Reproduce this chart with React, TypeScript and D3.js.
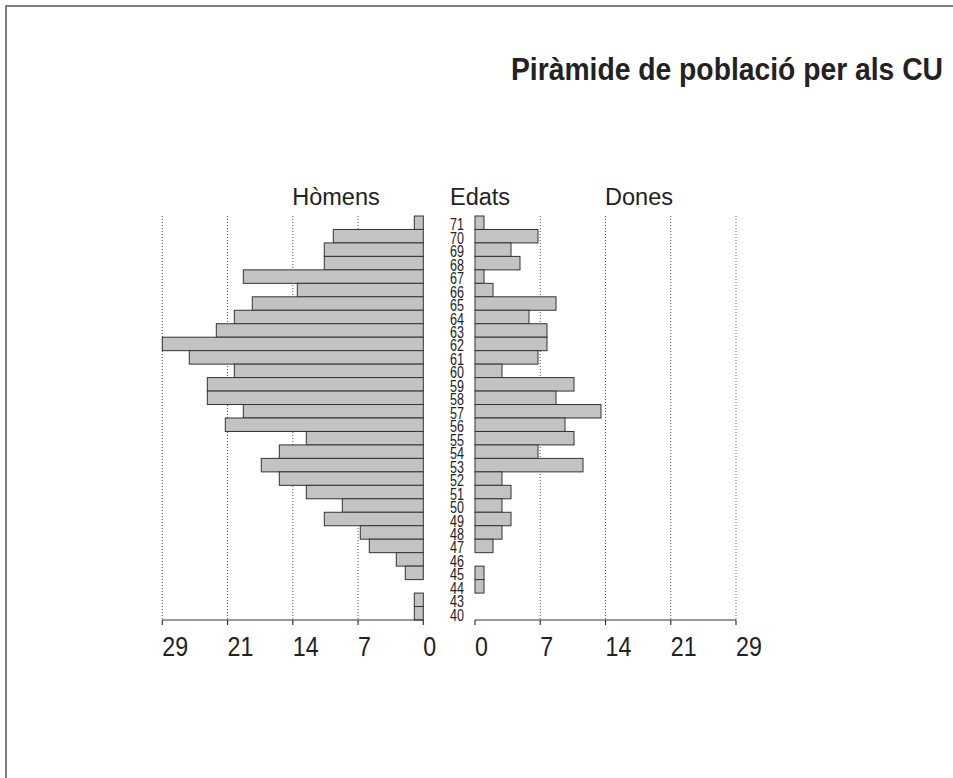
import React from 'react';
import * as d3 from 'd3';

// ages from top to bottom of the pyramid
const ages = [71, 70, 69, 68, 67, 66, 65, 64, 63, 62, 61, 60, 59, 58, 57, 56, 55, 54, 53, 52, 51, 50, 49, 48, 47, 46, 45, 44, 43, 40];
const men = [1, 10, 11, 11, 20, 14, 19, 21, 23, 29, 26, 21, 24, 24, 20, 22, 13, 16, 18, 16, 13, 9, 11, 7, 6, 3, 2, 0, 1, 1];
const women = [1, 7, 4, 5, 1, 2, 9, 6, 8, 8, 7, 3, 11, 9, 14, 10, 11, 7, 12, 3, 4, 3, 4, 3, 2, 0, 1, 1, 0, 0];
const tickValues = [0, 7.25, 14.5, 21.75, 29];
const tickLabels = ['0', '7', '14', '21', '29'];

const W = 953;
const H = 778;
const top = 216;
const bottom = 620;
const font = 'Liberation Sans, Arial, Helvetica, sans-serif';

const App: React.FC = () => {
  const xL = d3.scaleLinear().domain([0, 29]).range([423.3, 162.3]);
  const xR = d3.scaleLinear().domain([0, 29]).range([475, 736]);
  const y = d3.scaleBand<string>().domain(ages.map(String)).range([top, bottom]).padding(0);

  const barFill = '#c3c3c3';
  const barStroke = '#333';

  return (
    <svg width={W} height={H} style={{ position: 'absolute', left: 0, top: 0, background: '#fff' }} fontFamily={font}>
      {/* frame */}
      <rect x={6} y={6} width={1200} height={1200} fill="none" stroke="#555" strokeWidth={1.5} />

      <text x={943} y={80} textAnchor="end" fontSize={31} fontWeight="bold" fill="#222"
        textLength={432} lengthAdjust="spacingAndGlyphs">Piràmide de població per als CU</text>

      <text x={336} y={205} textAnchor="middle" fontSize={23.5} fill="#222">Hòmens</text>
      <text x={480} y={205} textAnchor="middle" fontSize={23.5} fill="#222">Edats</text>
      <text x={639} y={205} textAnchor="middle" fontSize={23.5} fill="#222">Dones</text>

      {/* grid */}
      {tickValues.filter(t => t > 0).map(t => (
        <g key={'g' + t}>
          <line x1={xL(t)} x2={xL(t)} y1={top} y2={bottom} stroke="#555" strokeWidth={1} strokeDasharray="1,2" />
          <line x1={xR(t)} x2={xR(t)} y1={top} y2={bottom} stroke="#555" strokeWidth={1} strokeDasharray="1,2" />
        </g>
      ))}

      {/* bars */}
      {ages.map((a, i) => (
        <g key={'b' + a}>
          <rect x={xL(men[i])} y={y(String(a))} width={xL(0) - xL(men[i])} height={y.bandwidth()}
            fill={barFill} stroke={barStroke} strokeWidth={1} />
          <rect x={xR(0)} y={y(String(a))} width={xR(women[i]) - xR(0)} height={y.bandwidth()}
            fill={barFill} stroke={barStroke} strokeWidth={1} />
          <text transform={`translate(457, ${(y(String(a)) || 0) + y.bandwidth() / 2 + 7.5}) scale(0.74, 1)`}
            textAnchor="middle" fontSize={17} fill="#222">{a}</text>
        </g>
      ))}

      {/* axes */}
      <line x1={xL(29)} x2={xL(0)} y1={bottom} y2={bottom} stroke="#333" strokeWidth={1.2} />
      <line x1={xR(0)} x2={xR(29)} y1={bottom} y2={bottom} stroke="#333" strokeWidth={1.2} />
      {tickValues.map((t, i) => (
        <g key={'t' + t}>
          <line x1={xL(t)} x2={xL(t)} y1={bottom} y2={bottom + 5} stroke="#333" strokeWidth={1.2} />
          <line x1={xR(t)} x2={xR(t)} y1={bottom} y2={bottom + 5} stroke="#333" strokeWidth={1.2} />
          <text transform={`translate(${xL(t)}, 656) scale(0.86, 1)`} fontSize={27} fill="#222">{tickLabels[i]}</text>
          <text transform={`translate(${xR(t)}, 656) scale(0.86, 1)`} fontSize={27} fill="#222">{tickLabels[i]}</text>
        </g>
      ))}
    </svg>
  );
};

export default App;
